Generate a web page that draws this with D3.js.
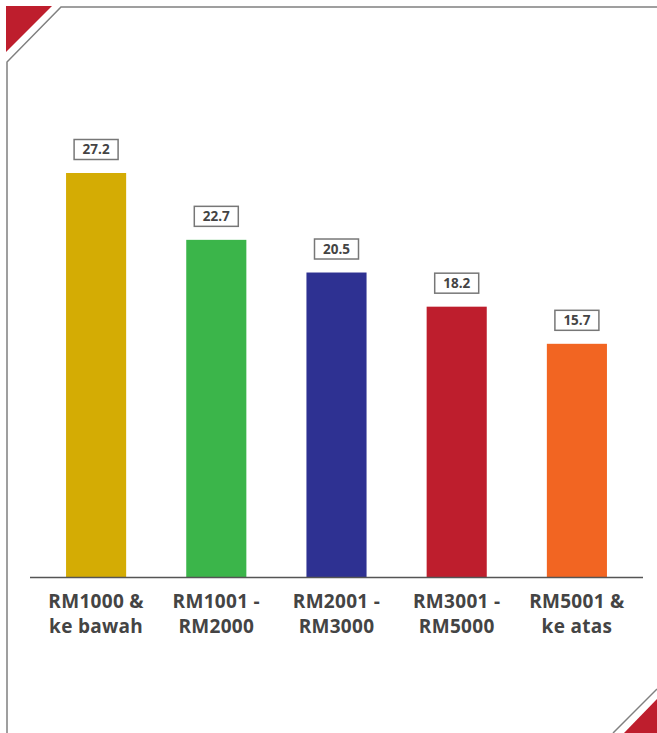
<!DOCTYPE html>
<html>
<head>
<meta charset="utf-8">
<script src="https://cdn.jsdelivr.net/npm/d3@7"></script>
<style>
  body { margin: 0; background: #fff; }
  svg { display: block; }
</style>
</head>
<body>
<div id="chart"></div>
<script>
var width = 657,
    height = 733;

var categories = ["RM1000 & ke bawah", "RM1001 - RM2000", "RM2001 - RM3000", "RM3001 - RM5000", "RM5001 & ke atas"];
var labelLines = [["RM1000 &", "ke bawah"], ["RM1001 -", "RM2000"], ["RM2001 -", "RM3000"], ["RM3001 -", "RM5000"], ["RM5001 &", "ke atas"]];
var values = [27.2, 22.7, 20.5, 18.2, 15.7];
var colors = ["#d4ac04", "#3bb54a", "#2e3192", "#be1e2d", "#f26522"];

var data = categories.map((c, i) => ({ cat: c, lines: labelLines[i], value: values[i], color: colors[i] }));

var svg = d3.select("#chart").append("svg")
    .attr("width", width)
    .attr("height", height);

// frame with cut corners
svg.append("path")
    .attr("d", "M7,733 L7,62 L61,7 L657,7")
    .attr("fill", "none")
    .attr("stroke", "#808080")
    .attr("stroke-width", 1.5);
svg.append("path")
    .attr("d", "M657,689 L613,733")
    .attr("fill", "none")
    .attr("stroke", "#808080")
    .attr("stroke-width", 1.5);
svg.append("path")
    .attr("d", "M6,6 L52,6 L6,52 Z")
    .attr("fill", "#be1e2d");
svg.append("path")
    .attr("d", "M657,699 L657,733 L624,733 Z")
    .attr("fill", "#be1e2d");

var x = d3.scaleBand()
    .domain(categories)
    .range([36, 637])
    .paddingInner(0.5)
    .paddingOuter(0.25);

var y = d3.scaleLinear()
    .domain([0, 27.2])
    .range([577, 173]);

svg.append("g")
    .selectAll("rect")
    .data(data)
    .join("rect")
    .attr("x", d => x(d.cat))
    .attr("y", d => y(d.value))
    .attr("width", x.bandwidth())
    .attr("height", d => y(0) - y(d.value))
    .attr("fill", d => d.color);

// baseline
svg.append("line")
    .attr("x1", 30).attr("x2", 643)
    .attr("y1", y(0) + 0.5).attr("y2", y(0) + 0.5)
    .attr("stroke", "#555")
    .attr("stroke-width", 1.5);

// value boxes
var lbl = svg.append("g")
    .selectAll("g")
    .data(data)
    .join("g")
    .attr("transform", d => `translate(${x(d.cat) + x.bandwidth() / 2},${y(d.value) - 23.5})`);

lbl.append("rect")
    .attr("x", -22).attr("y", -10)
    .attr("width", 44).attr("height", 20)
    .attr("fill", "#fff")
    .attr("stroke", "#777")
    .attr("stroke-width", 1.5);

lbl.append("text")
    .attr("text-anchor", "middle")
    .attr("dy", "0.36em")
    .attr("font-family", "'Open Sans', sans-serif")
    .attr("font-weight", "bold")
    .attr("font-size", 13.5)
    .attr("fill", "#444")
    .text(d => d.value.toFixed(1));

// category labels
svg.append("g")
    .selectAll("text")
    .data(data)
    .join("text")
    .attr("x", d => x(d.cat) + x.bandwidth() / 2)
    .attr("text-anchor", "middle")
    .attr("font-family", "'Open Sans', sans-serif")
    .attr("font-weight", "bold")
    .attr("font-size", 19)
    .attr("letter-spacing", 0.3)
    .attr("fill", "#444")
    .selectAll("tspan")
    .data(d => d.lines)
    .join("tspan")
    .attr("x", function () { return d3.select(this.parentNode).attr("x"); })
    .attr("y", (d, i) => 608 + i * 24.5)
    .text(d => d);
</script>
</body>
</html>
